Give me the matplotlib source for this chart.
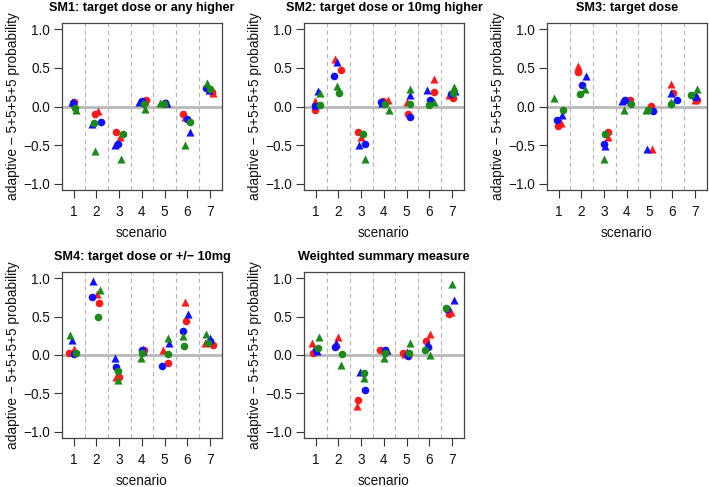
import numpy as np
import matplotlib
matplotlib.use("Agg")
import matplotlib.pyplot as plt

plt.rcParams['font.family'] = ['Liberation Sans', 'DejaVu Sans']

scenarios = [1, 2, 3, 4, 5, 6, 7]
titles = ["SM1: target dose or any higher",
          "SM2: target dose or 10mg higher",
          "SM3: target dose",
          "SM4: target dose or +/\u2212 10mg",
          "Weighted summary measure"]

# x = scenario + jitter, y = difference in probability
# order of series: red circle, red triangle, blue circle, blue triangle, green circle, green triangle
sm1_x = [[1.00, 1.94, 2.85, 4.16, 5.02, 5.82, 7.10],
         [1.02, 2.06, 3.03, 4.12, 5.05, 5.88, 7.12],
         [0.98, 2.19, 2.93, 3.99, 5.00, 5.97, 6.82],
         [0.93, 1.78, 2.81, 3.87, 5.12, 6.10, 6.95],
         [1.06, 1.88, 3.15, 4.10, 4.98, 6.12, 7.00],
         [1.08, 1.92, 3.10, 4.13, 4.82, 5.90, 6.88]]
sm1_y = [[0.06, -0.10, -0.33, 0.08, 0.04, -0.10, 0.19],
         [0.05, -0.06, -0.40, 0.07, 0.04, -0.14, 0.18],
         [0.04, -0.20, -0.49, 0.07, 0.04, -0.16, 0.24],
         [0.06, -0.23, -0.50, 0.06, 0.05, -0.33, 0.21],
         [-0.02, -0.21, -0.36, 0.03, 0.03, -0.20, 0.22],
         [-0.04, -0.57, -0.68, -0.03, 0.05, -0.50, 0.31]]

sm2_x = [[0.98, 2.12, 2.85, 3.98, 5.06, 6.22, 7.05],
         [0.95, 1.85, 3.00, 4.16, 5.02, 6.22, 6.85],
         [0.98, 1.80, 3.17, 3.88, 5.16, 6.01, 6.96],
         [1.10, 1.92, 2.90, 3.92, 5.16, 5.90, 7.15],
         [1.19, 2.04, 3.07, 4.03, 5.16, 5.97, 7.05],
         [1.20, 1.95, 3.17, 4.23, 5.13, 6.22, 7.10]]
sm2_y = [[-0.04, 0.47, -0.33, 0.07, -0.10, 0.19, 0.11],
         [0.07, 0.61, -0.40, 0.08, 0.06, 0.36, 0.15],
         [0.01, 0.40, -0.49, 0.06, -0.14, 0.09, 0.16],
         [0.20, 0.57, -0.50, 0.05, 0.15, 0.21, 0.20],
         [0.02, 0.17, -0.36, 0.03, 0.03, 0.02, 0.17],
         [0.17, 0.26, -0.68, -0.04, 0.23, 0.06, 0.25]]

sm3_x = [[0.96, 1.84, 3.18, 4.13, 5.07, 6.04, 7.07],
         [1.10, 1.84, 3.15, 4.15, 5.12, 5.93, 7.00],
         [0.91, 2.04, 2.99, 3.90, 5.16, 6.20, 6.99],
         [1.15, 2.18, 3.04, 3.80, 4.90, 5.93, 7.03],
         [1.19, 1.93, 3.03, 4.16, 4.93, 5.96, 6.82],
         [0.80, 2.15, 3.01, 3.87, 4.85, 5.93, 7.10]]
sm3_y = [[-0.25, 0.44, -0.33, 0.08, 0.01, 0.18, 0.09],
         [-0.21, 0.52, -0.40, 0.07, -0.55, 0.29, 0.08],
         [-0.17, 0.28, -0.49, 0.08, -0.06, 0.08, 0.12],
         [-0.11, 0.39, -0.51, 0.07, -0.55, 0.17, 0.14],
         [-0.05, 0.16, -0.36, 0.03, -0.04, 0.03, 0.15],
         [0.11, 0.23, -0.68, -0.04, -0.04, 0.06, 0.22]]

sm4_x = [[0.77, 2.11, 2.99, 4.09, 5.13, 5.96, 7.13],
         [1.03, 2.03, 2.85, 4.06, 4.94, 5.92, 6.80],
         [0.99, 1.78, 2.87, 4.02, 4.87, 5.82, 7.00],
         [0.92, 1.85, 2.80, 4.05, 5.18, 6.04, 6.98],
         [1.09, 2.07, 2.95, 3.99, 5.13, 5.86, 6.91],
         [0.84, 2.14, 2.95, 3.96, 5.13, 5.79, 6.84]]
sm4_y = [[0.03, 0.68, -0.28, 0.07, -0.11, 0.44, 0.13],
         [0.08, 0.80, -0.28, 0.08, 0.06, 0.69, 0.15],
         [0.01, 0.75, -0.15, 0.06, -0.14, 0.31, 0.18],
         [0.20, 0.96, -0.04, 0.05, 0.15, 0.54, 0.22],
         [0.03, 0.50, -0.21, 0.02, 0.01, 0.12, 0.16],
         [0.26, 0.85, -0.32, -0.04, 0.22, 0.25, 0.27]]

ws_x = [[0.88, 1.89, 2.85, 3.83, 4.86, 5.85, 6.87],
        [0.84, 1.97, 2.82, 4.10, 4.92, 6.02, 6.96],
        [1.03, 1.86, 3.15, 4.05, 5.07, 5.93, 6.80],
        [1.06, 1.91, 2.96, 4.13, 5.00, 5.95, 7.10],
        [1.09, 2.15, 3.12, 4.04, 5.12, 5.80, 6.74],
        [1.16, 2.13, 3.12, 4.00, 5.17, 6.03, 7.00]]
ws_y = [[0.03, 0.12, -0.59, 0.07, 0.02, 0.18, 0.54],
        [0.15, 0.24, -0.66, 0.06, 0.01, 0.27, 0.56],
        [0.06, 0.10, -0.46, 0.06, -0.01, 0.11, 0.60],
        [0.05, 0.16, -0.22, 0.06, 0.04, 0.14, 0.71],
        [0.09, 0.01, -0.23, 0.03, 0.03, 0.07, 0.61],
        [0.23, -0.13, -0.30, -0.04, 0.16, 0.00, 0.93]]

colors = ["#ff1a1a", "#ff1a1a", "#1010ff", "#1010ff", "#1a8a1a", "#1a8a1a"]
markers = ["o", "^", "o", "^", "o", "^"]

W, H = 709, 487
# box pixel positions: left, top, right, bottom
boxes = [(62, 23, 222, 190), (304, 23, 464, 190), (547, 23, 707, 190),
         (62, 272, 222, 438), (304, 272, 464, 438)]
data = [(sm1_x, sm1_y), (sm2_x, sm2_y), (sm3_x, sm3_y), (sm4_x, sm4_y), (ws_x, ws_y)]

fig = plt.figure(figsize=(W / 100, H / 100), dpi=100)

for i in range(5):
    l, t, r, b = boxes[i]
    ax = fig.add_axes([l / W, 1 - b / H, (r - l) / W, (b - t) / H])
    for k in range(6):
        ax.axvline(k + 1.5, color="#b5b5b5", lw=0.8, ls=(0, (4, 3)), zorder=1)
    ax.axhline(0, color="#b8b8b8", lw=2, zorder=1)
    xs, ys = data[i]
    for j in range(6):
        ms = 30 if markers[j] == "o" else 34
        ax.scatter(xs[j], ys[j], s=ms, marker=markers[j], color=colors[j],
                   linewidths=0, zorder=3)
    ax.set_xlim(0.48, 7.53)
    ax.set_ylim(-1.08, 1.08)
    ax.set_xticks(scenarios)
    ax.set_yticks([-1, -0.5, 0, 0.5, 1])
    ax.set_yticklabels(["\u22121.0", "\u22120.5", "0.0", "0.5", "1.0"])
    ax.tick_params(labelsize=9.8, length=6, width=0.8,
                   colors="#333333", labelcolor="#111111")
    ax.tick_params(axis="x", pad=5)
    ax.tick_params(axis="y", pad=2.5)
    for s in ax.spines.values():
        s.set_color("#444444")
        s.set_linewidth(0.9)
    ax.set_title(titles[i], fontsize=9.1, fontweight="bold", pad=8.5)
    ax.set_xlabel("scenario", fontsize=9.8, labelpad=4.5, color="#111111")
    ax.set_ylabel("adaptive \u2212 5+5+5+5 probability", fontsize=9.8,
                  labelpad=2.5, color="#111111")

plt.savefig("out.png", dpi=100)
